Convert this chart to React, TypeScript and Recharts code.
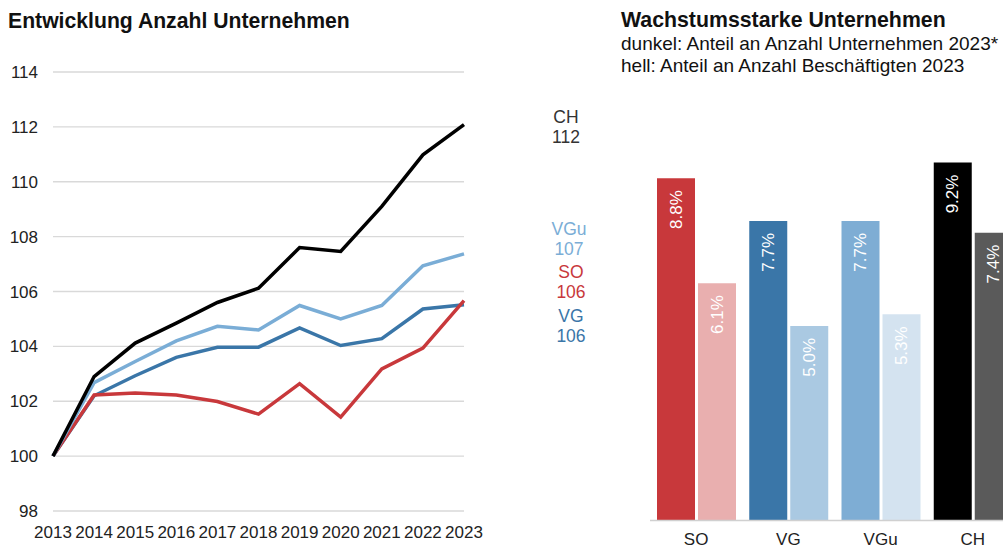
import { LineChart, Line, XAxis, YAxis, CartesianGrid, BarChart, Bar, Cell, LabelList } from 'recharts';

const years = ['2013', '2014', '2015', '2016', '2017', '2018', '2019', '2020', '2021', '2022', '2023'];
const chValues = [100, 102.9, 104.12, 104.85, 105.6, 106.12, 107.6, 107.46, 109.1, 110.98, 112.08];
const vguValues = [100, 102.68, 103.45, 104.2, 104.73, 104.6, 105.49, 105.0, 105.49, 106.94, 107.37];
const vgValues = [100, 102.2, 102.93, 103.6, 103.97, 103.97, 104.67, 104.03, 104.28, 105.36, 105.52];
const soValues = [100, 102.23, 102.3, 102.23, 101.99, 101.53, 102.64, 101.42, 103.18, 103.94, 105.67];
const yTicks = [98, 100, 102, 104, 106, 108, 110, 112, 114];

const regions = ['SO', 'VG', 'VGu', 'CH'];
const shareFirms = [8.8, 7.7, 7.7, 9.2];
const shareEmployees = [6.1, 5.0, 5.3, 7.4];

const FONT = 'Arial, "Liberation Sans", sans-serif';

const lineData = years.map((year, i) => ({
  year,
  CH: chValues[i],
  VGu: vguValues[i],
  VG: vgValues[i],
  SO: soValues[i],
}));

const barData = regions.map((name, i) => ({
  name,
  dunkel: shareFirms[i],
  hell: shareEmployees[i],
}));

const darkColors = ['#c8383b', '#3a76a8', '#7eadd4', '#000000'];
const lightColors = ['#e9afaf', '#aac9e2', '#d4e3f0', '#5a5a5a'];

// end-of-line labels: colour and offset relative to the last point
const endLabels: Record<string, { color: string; dx: number; dy: number; value: string }> = {
  CH: { color: '#333333', dx: 102, dy: -8, value: '112' },
  VGu: { color: '#7aadd6', dx: 105, dy: -25, value: '107' },
  SO: { color: '#c8383b', dx: 107, dy: -29, value: '106' },
  VG: { color: '#3a76a8', dx: 107, dy: 11, value: '106' },
};

const makeEndLabel = (key: string) => (props: any) => {
  const { x, y, index } = props;
  if (index !== years.length - 1) return null;
  const cfg = endLabels[key];
  return (
    <text
      x={x + cfg.dx}
      y={y + cfg.dy}
      fill={cfg.color}
      fontSize={17.5}
      fontFamily={FONT}
      textAnchor="middle"
      dominantBaseline="central"
    >
      <tspan x={x + cfg.dx} dy={0}>{key}</tspan>
      <tspan x={x + cfg.dx} dy={20}>{cfg.value}</tspan>
    </text>
  );
};

const BarValueLabel = (props: any) => {
  const { x, y, width, value } = props;
  const cx = x + width / 2;
  return (
    <text
      transform={`translate(${cx}, ${y + 12}) rotate(-90)`}
      textAnchor="end"
      dominantBaseline="central"
      fill="#ffffff"
      fontSize={17}
      fontFamily={FONT}
    >
      {`${value.toFixed(1)}%`}
    </text>
  );
};

const tickStyle = { fontSize: 17, fill: '#222222', fontFamily: FONT };

export default function App() {
  return (
    <div
      style={{
        position: 'absolute',
        left: 0,
        top: 0,
        width: 1003,
        height: 548,
        overflow: 'hidden',
        background: '#fff',
        fontFamily: FONT,
        color: '#111',
      }}
    >
      <div style={{ position: 'absolute', left: 8, top: 8, fontSize: 21.2, fontWeight: 700, lineHeight: '26px', whiteSpace: 'nowrap' }}>
        Entwicklung Anzahl Unternehmen
      </div>
      <div style={{ position: 'absolute', left: 621, top: 7, whiteSpace: 'nowrap' }}>
        <div style={{ fontSize: 21.3, fontWeight: 700, lineHeight: '26px' }}>Wachstumsstarke Unternehmen</div>
        <div style={{ fontSize: 19, lineHeight: '22px' }}>dunkel: Anteil an Anzahl Unternehmen 2023*</div>
        <div style={{ fontSize: 19, lineHeight: '22px' }}>hell: Anteil an Anzahl Beschäftigten 2023</div>
      </div>

      <div style={{ position: 'absolute', left: 0, top: 0 }}>
        <LineChart width={600} height={548} data={lineData} margin={{ top: 72, right: 136, bottom: 7, left: 0 }}>
          <CartesianGrid vertical={false} stroke="#d9d9d9" strokeWidth={1.3} />
          <XAxis
            dataKey="year"
            axisLine={false}
            tickLine={false}
            tickSize={0}
            tickMargin={15}
            height={30}
            interval={0}
            tick={tickStyle}
          />
          <YAxis
            domain={[98, 114]}
            ticks={yTicks}
            axisLine={false}
            tickLine={false}
            tickSize={0}
            tickMargin={15}
            width={53}
            tick={tickStyle}
          />
          <Line dataKey="VG" stroke="#3a76a8" strokeWidth={3.5} dot={false} isAnimationActive={false} label={makeEndLabel('VG')} />
          <Line dataKey="SO" stroke="#c8383b" strokeWidth={3.5} dot={false} isAnimationActive={false} label={makeEndLabel('SO')} />
          <Line dataKey="VGu" stroke="#7aadd6" strokeWidth={3.5} dot={false} isAnimationActive={false} label={makeEndLabel('VGu')} />
          <Line dataKey="CH" stroke="#000000" strokeWidth={3.5} dot={false} isAnimationActive={false} label={makeEndLabel('CH')} />
        </LineChart>
      </div>

      <div style={{ position: 'absolute', left: 650, top: 0 }}>
        <BarChart width={369} height={548} data={barData} barSize={38} barGap={3} margin={{ top: 131.5, right: 0, bottom: 0, left: 0 }}>
          <XAxis
            dataKey="name"
            axisLine={{ stroke: '#d0d0d0', strokeWidth: 1.5 }}
            tickLine={false}
            tickSize={0}
            tickMargin={12}
            height={27.5}
            tick={tickStyle}
          />
          <YAxis hide domain={[0, 10]} />
          <Bar dataKey="dunkel" isAnimationActive={false}>
            {barData.map((d, i) => (
              <Cell key={d.name} fill={darkColors[i]} />
            ))}
            <LabelList dataKey="dunkel" content={BarValueLabel} />
          </Bar>
          <Bar dataKey="hell" isAnimationActive={false}>
            {barData.map((d, i) => (
              <Cell key={d.name} fill={lightColors[i]} />
            ))}
            <LabelList dataKey="hell" content={BarValueLabel} />
          </Bar>
        </BarChart>
      </div>
    </div>
  );
}
